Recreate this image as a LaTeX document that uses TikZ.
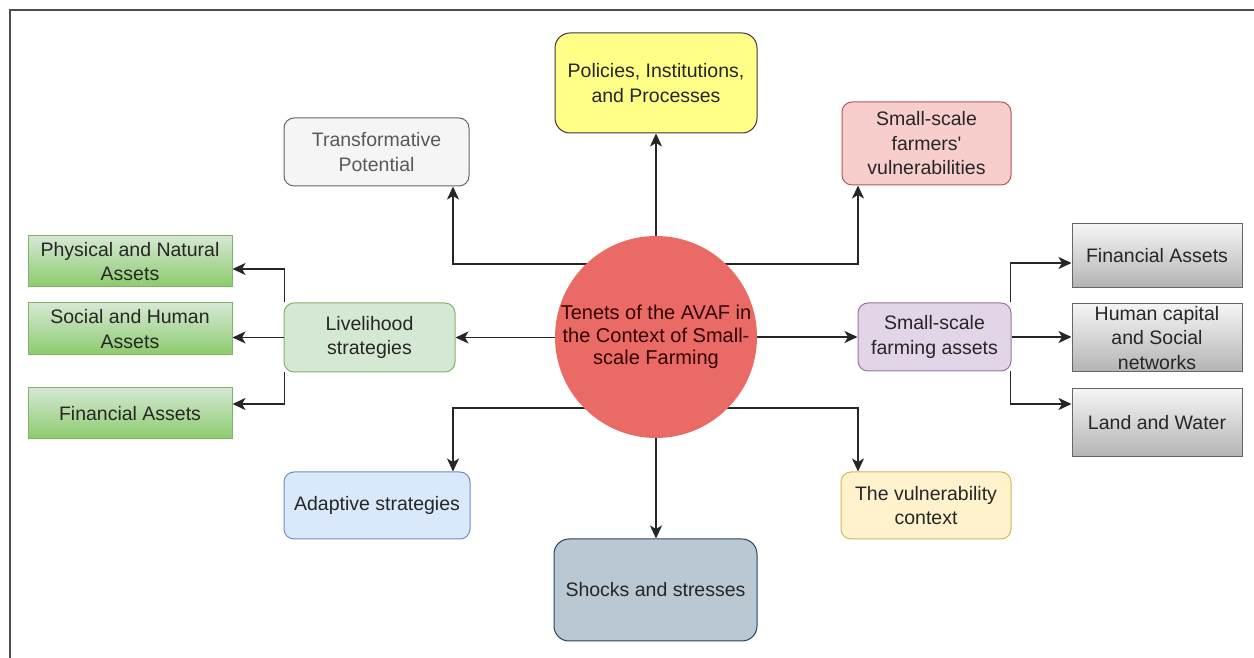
\documentclass[tikz,border=0pt]{standalone}
\usepackage{fontspec}
\setmainfont{Liberation Sans}
\usetikzlibrary{arrows.meta,backgrounds}

\definecolor{polfill}{HTML}{FFFF88}
\definecolor{poldraw}{HTML}{36393D}
\definecolor{redfill}{HTML}{F8CECC}
\definecolor{reddraw}{HTML}{B85450}
\definecolor{circfill}{HTML}{EA6B66}
\definecolor{grnfill}{HTML}{D5E8D4}
\definecolor{grndraw}{HTML}{82B366}
\definecolor{grndark}{HTML}{8CCB6C}
\definecolor{purfill}{HTML}{E1D5E7}
\definecolor{purdraw}{HTML}{9673A6}
\definecolor{bluefill}{HTML}{DAE8FC}
\definecolor{bluedraw}{HTML}{6C8EBF}
\definecolor{yelfill}{HTML}{FFF2CC}
\definecolor{yeldraw}{HTML}{D6B656}
\definecolor{shkfill}{HTML}{BAC8D3}
\definecolor{shkdraw}{HTML}{23445D}
\definecolor{gryfill}{HTML}{F5F5F5}
\definecolor{grydark}{HTML}{B3B3B3}
\definecolor{grydraw}{HTML}{666666}

\begin{document}
\begin{tikzpicture}[x=1pt, y=1pt,
    box/.style={draw, line width=1pt, rounded corners=10pt, align=center,
        inner sep=0pt, text=black!85, font=\fontsize{19.5}{24.5}\selectfont},
    sqbox/.style={box, sharp corners},
    link/.style={draw=black!85, line width=1.5pt,
        -{Stealth[length=13pt, width=12pt, inset=3.5pt]}}]
    \useasboundingbox (0,0) rectangle (1254,658);
    \draw[black!70, line width=2pt] (10,-5) -- (10,648) -- (1260,648);

    % centre
    \node[circle, fill=circfill, minimum size=202pt, inner sep=0pt] (c) at (656,321) {};
    \node[align=center, text=black!80!red, font=\fontsize{20}{22.5}\selectfont] (ctext) at (c)
        {Tenets of the AVAF in\\the Context of Small-\\scale Farming};

    % upper row
    \node[box, fill=polfill, draw=poldraw, rounded corners=15pt, minimum width=202pt, minimum height=100pt]
        (pol) at (656,575) {Policies, Institutions,\\and Processes};
    \node[box, fill=gryfill, draw=grydraw, text=black!65, minimum width=185pt, minimum height=68pt]
        (trans) at (376.5,506) {Transformative\\Potential};
    \node[box, fill=redfill, draw=reddraw, minimum width=169pt, minimum height=83pt]
        (vuln) at (926.5,514.5) {Small-scale\\farmers\textquotesingle\\vulnerabilities};

    % left side
    \node[box, fill=grnfill, draw=grndraw, minimum width=171pt, minimum height=69pt]
        (live) at (369.5,320.5) {Livelihood\\strategies};
    \node[sqbox, top color=grnfill, bottom color=grndark, draw=grndraw, minimum width=204pt, minimum height=51pt]
        (physnat) at (130,396.5) {Physical and Natural\\Assets};
    \node[sqbox, top color=grnfill, bottom color=grndark, draw=grndraw, minimum width=204pt, minimum height=52pt]
        (sochum) at (130,329) {Social and Human\\Assets};
    \node[sqbox, top color=grnfill, bottom color=grndark, draw=grndraw, minimum width=204pt, minimum height=51pt]
        (finl) at (130,244.5) {Financial Assets};

    % right side
    \node[box, fill=purfill, draw=purdraw, minimum width=153pt, minimum height=68pt]
        (sfa) at (934.5,321) {Small-scale\\farming assets};
    \node[sqbox, top color=gryfill, bottom color=grydark, draw=grydraw, minimum width=170pt, minimum height=64pt]
        (finr) at (1157,402) {Financial Assets};
    \node[sqbox, top color=gryfill, bottom color=grydark, draw=grydraw, minimum width=170pt, minimum height=68pt]
        (humsoc) at (1157,320) {Human capital\\and Social\\networks};
    \node[sqbox, top color=gryfill, bottom color=grydark, draw=grydraw, minimum width=170pt, minimum height=68pt]
        (landw) at (1157,235) {Land and Water};

    % lower row
    \node[box, fill=bluefill, draw=bluedraw, minimum width=186pt, minimum height=67pt]
        (adap) at (377,152.5) {Adaptive strategies};
    \node[box, fill=shkfill, draw=shkdraw, rounded corners=15pt, minimum width=203pt, minimum height=102pt]
        (shock) at (655.5,68) {Shocks and stresses};
    \node[box, fill=yelfill, draw=yeldraw, minimum width=170pt, minimum height=67pt]
        (vctx) at (926,152.5) {The vulnerability\\context};

    \coordinate (tl) at (453,394);
    \coordinate (tr) at (858,394);
    \coordinate (bl) at (453,250);
    \coordinate (br) at (858,250);

    \begin{scope}[on background layer]
        \draw[link] (c.center) -- (c.center |- pol.south);
        \draw[link] (c.center |- tl) -| (tl |- trans.south);
        \draw[link] (c.center |- tr) -| (tr |- vuln.south);
        \draw[link] (c.center |- live.east) -- (live.east);
        \draw[link] (c.center |- sfa.west) -- (sfa.west);
        \draw[link] (c.center |- bl) -| (bl |- adap.north);
        \draw[link] (c.center |- br) -| (br |- vctx.north);
        \draw[link] (c.center) -- (c.center |- shock.north);
    \end{scope}

    % branches
    \draw[link] ([xshift=1pt]live.north west) |- ([yshift=-7.5pt]physnat.east);
    \draw[link] (live.west) -- (live.west -| sochum.east);
    \draw[link] ([xshift=1pt]live.south west) |- ([yshift=9.5pt]finl.east);
    \draw[link] ([xshift=-1pt]sfa.north east) |- ([yshift=-7pt]finr.west);
    \draw[link] (sfa.east) -- (sfa.east -| humsoc.west);
    \draw[link] ([xshift=-1pt]sfa.south east) |- ([yshift=19pt]landw.west);
\end{tikzpicture}
\end{document}
